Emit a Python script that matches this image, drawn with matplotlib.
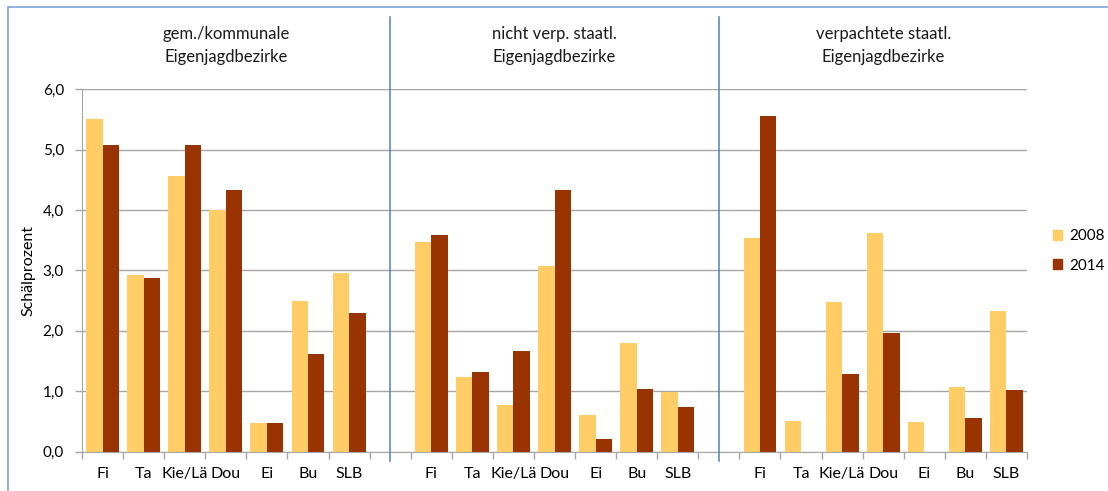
import matplotlib.pyplot as plt
from matplotlib.patches import Patch, Rectangle
import numpy as np

plt.rcParams['font.family'] = ['Lato', 'DejaVu Sans']

# Schälprozent je Baumart, drei Besitzarten, Aufnahmen 2008 und 2014
species = ['Fi', 'Ta', 'Kie/Lä', 'Dou', 'Ei', 'Bu', 'SLB']
groups = ['gem./kommunale\nEigenjagdbezirke',
          'nicht verp. staatl.\nEigenjagdbezirke',
          'verpachtete staatl.\nEigenjagdbezirke']

val_2008 = [
    [5.50, 2.93, 4.56, 4.00, 0.47, 2.50, 2.95],
    [3.47, 1.23, 0.77, 3.08, 0.61, 1.80, 0.99],
    [3.54, 0.51, 2.48, 3.62, 0.49, 1.07, 2.32],
]
val_2014 = [
    [5.07, 2.88, 5.08, 4.33, 0.47, 1.61, 2.30],
    [3.59, 1.32, 1.67, 4.33, 0.20, 1.03, 0.73],
    [5.55, 0.00, 1.28, 1.96, 0.00, 0.56, 1.02],
]
years = ['2008', '2014']
colors = ['#FFCC66', '#993300']

grid_col = '#A6A6A6'
sep_col = '#4F81BD'

fig = plt.figure(figsize=(11.08, 4.91), dpi=100)
ax = fig.add_axes([82 / 1108, 1 - 451.5 / 491, 945 / 1108, 362.2 / 491])

# Rahmen oben und links
fig.patches.append(Rectangle((8 / 1108, -0.1), 1.2, 1 - 7 / 491 + 0.1,
                             transform=fig.transFigure, fill=False,
                             edgecolor='#7FA1D6', linewidth=1.2))

n = len(species)
slot = n + 1
bw = 0.4
positions = []
labels = []
for g in range(len(groups)):
    x = np.arange(n) + g * slot + 0.5
    ax.bar(x - bw / 2, val_2008[g], bw, color=colors[0], zorder=3)
    ax.bar(x + bw / 2, val_2014[g], bw, color=colors[1], zorder=3)
    positions.extend(x)
    labels.extend(species)
    ax.text(g * slot + n / 2, 6.73, groups[g], ha='center', va='center',
            fontsize=12, linespacing=1.55, color='#1a1a1a')
    if g > 0:
        ax.axvline(g * slot - 0.5, ymin=-0.025, ymax=1.2, color=sep_col,
                   linewidth=1.1, clip_on=False, zorder=4)

total = len(groups) * slot - 1
ax.set_xlim(0, total)
ax.set_ylim(0, 6)

ax.set_yticks(np.arange(0, 6.1, 1))
ax.set_yticklabels([f'{v:.1f}'.replace('.', ',') for v in np.arange(0, 6.1, 1)],
                   fontsize=11)
ax.yaxis.grid(True, color=grid_col, linewidth=1)
ax.set_axisbelow(True)

ax.set_xticks(np.arange(0, total + 1))
ax.set_xticklabels([])
ax.set_xticks(positions, minor=True)
ax.set_xticklabels(labels, minor=True, fontsize=11.5)
ax.tick_params(axis='x', which='major', length=5, color=grid_col, width=1)
ax.tick_params(axis='x', which='minor', length=0, pad=11)
ax.tick_params(axis='y', length=5, color=grid_col, width=1, pad=8)

for side in ['top', 'right']:
    ax.spines[side].set_visible(False)
for side in ['left', 'bottom']:
    ax.spines[side].set_color(grid_col)

ax.set_ylabel('Schälprozent', fontsize=11.5, labelpad=5)

handles = [Patch(color=c) for c in colors]
fig.legend(handles, years, loc='center left',
           bbox_to_anchor=(1053 / 1108, 1 - 251 / 491), frameon=False,
           fontsize=11, handlelength=0.6, handleheight=0.6,
           handletextpad=0.45, labelspacing=1.0, borderpad=0,
           borderaxespad=0)

fig.savefig('out.png', dpi=100)
